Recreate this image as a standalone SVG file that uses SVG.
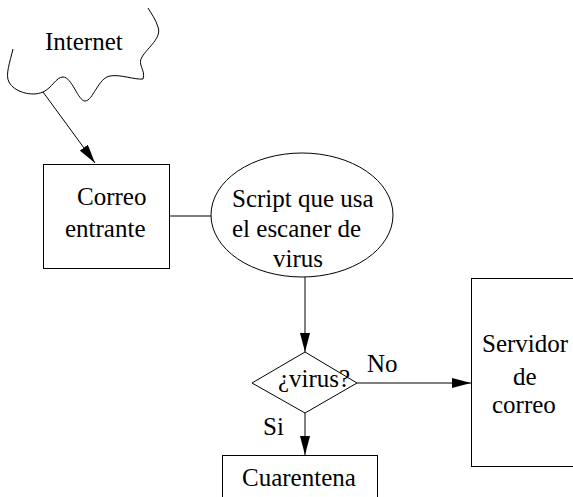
<svg xmlns="http://www.w3.org/2000/svg" width="573" height="497" viewBox="0 0 573 497">
<style>
.s{fill:none;stroke:#000;stroke-width:1}
.n{fill:#fff;stroke:#000;stroke-width:1}
.t{font-family:'Liberation Serif','Times New Roman','DejaVu Serif',serif;font-size:25px;fill:#000}
</style>
<defs>
<marker id="ah" viewBox="0 0 19 10" refX="19" refY="5" markerWidth="19" markerHeight="10" markerUnits="userSpaceOnUse" orient="auto">
<path d="M0,0 L19,5 L0,10 Z" fill="#000"/>
</marker>
</defs>
<rect width="573" height="497" fill="#fff"/>
<g id="internet">
<path class="s" d="M13,49 C10,62 5,75 9,82 C14,92 32,97 43,92 C52,88 56,77 63,77 C72,77 78,101 85,101 C93,101 98,78 110,76 C120,74 135,80 143,79 C146,70 137,65 142,57 C148,47 162,38 158,27 C156,20 151,13 148,8"/>
<text class="t" x="45" y="50">Internet</text>
</g>
<g id="connectors">
<line class="s" x1="43" y1="92" x2="95" y2="163" marker-end="url(#ah)"/>
<line class="s" x1="169" y1="216" x2="211" y2="216"/>
<line class="s" x1="305" y1="277" x2="305" y2="352" marker-end="url(#ah)"/>
<line class="s" x1="357" y1="383" x2="471" y2="383" marker-end="url(#ah)"/>
<line class="s" x1="305" y1="413" x2="305" y2="455" marker-end="url(#ah)"/>
<text class="t" x="367" y="372">No</text>
<text class="t" x="263" y="435">Si</text>
</g>
<g id="correo-entrante">
<rect class="n" x="43.5" y="164.5" width="126" height="104"/>
<text class="t" x="77" y="205">Correo</text>
<text class="t" x="65" y="237">entrante</text>
</g>
<g id="script">
<ellipse class="n" cx="302" cy="215" rx="91" ry="62"/>
<text class="t" x="232" y="207">Script que usa</text>
<text class="t" x="232" y="237">el escaner de</text>
<text class="t" x="273" y="267">virus</text>
</g>
<g id="virus">
<path class="n" d="M305,352 L357,383 L305,413 L252,383 Z"/>
<text class="t" x="278" y="387">¿virus?</text>
</g>
<g id="cuarentena">
<rect class="n" x="222.5" y="455.5" width="155" height="60"/>
<text class="t" x="242" y="486">Cuarentena</text>
</g>
<g id="servidor">
<rect class="n" x="471.5" y="278.5" width="120" height="188"/>
<text class="t" x="482" y="352">Servidor</text>
<text class="t" x="513" y="385">de</text>
<text class="t" x="492" y="413">correo</text>
</g>
</svg>
